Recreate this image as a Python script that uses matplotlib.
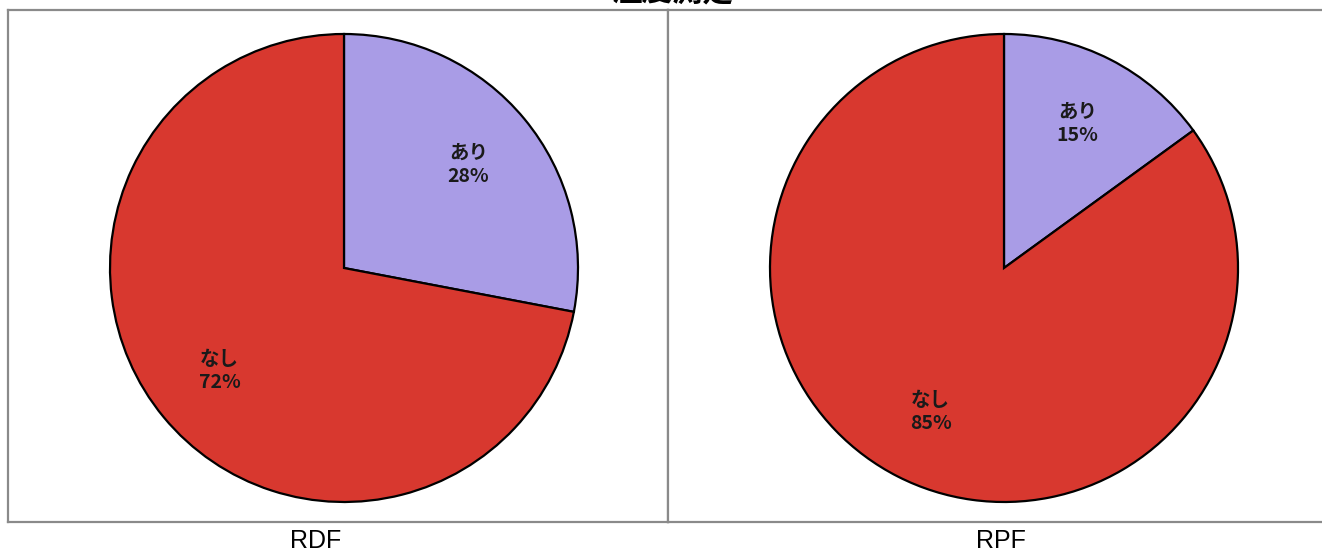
import matplotlib
matplotlib.use("Agg")
import matplotlib.pyplot as plt

plt.rcParams['font.family'] = ['Noto Sans CJK JP', 'DejaVu Sans']

title = "温度測定"
categories = ["あり", "なし"]
rdf_values = [28, 72]
rpf_values = [15, 85]
panel_names = ["RDF", "RPF"]
colors = ["#A99CE6", "#D8382F"]

W, H = 1322, 557
fig = plt.figure(figsize=(W / 100, H / 100), dpi=100)
fig.patch.set_facecolor("white")

R = 234.0  # pie radius in px
top, bottom = 10, 522
panels = [
    (8, 668, 344, 268, rdf_values),
    (668, 1340, 1004, 268, rpf_values),
]

for (x0, x1, cx, cy, vals), name in zip(panels, panel_names):
    ax = fig.add_axes([x0 / W, (H - bottom) / H, (x1 - x0) / W, (bottom - top) / H])
    labels = [f"{c}\n{v}%" for c, v in zip(categories, vals)]
    wedges, texts = ax.pie(vals, labels=labels, colors=colors, startangle=90,
                           counterclock=False, labeldistance=0.69,
                           wedgeprops=dict(edgecolor="black", linewidth=1.6),
                           textprops=dict(fontsize=14, color="#1a1a1a",
                                          fontweight="bold",
                                          ha="center", va="center",
                                          linespacing=1.3))
    for t in texts:
        t.set_horizontalalignment("center")
    ax.set_aspect("auto")
    ax.set_xlim((x0 - cx) / R, (x1 - cx) / R)
    ax.set_ylim((cy - bottom) / R, (cy - top) / R)
    ax.set_frame_on(True)
    ax.set_xticks([])
    ax.set_yticks([])
    for s in ax.spines.values():
        s.set_visible(True)
        s.set_color("#8a8a8a")
        s.set_linewidth(1.6)

fig.text(316 / W, 1 - 541 / H, panel_names[0], ha="center", va="center",
         fontsize=18, family=["Liberation Sans", "DejaVu Sans"])
fig.text(1001 / W, 1 - 541 / H, panel_names[1], ha="center", va="center",
         fontsize=18, family=["Liberation Sans", "DejaVu Sans"])
fig.text(672 / W, 1 + 9 / H, title, ha="center", va="center", fontsize=22,
         fontweight="bold")

fig.savefig("out.png", dpi=100, facecolor="white")
